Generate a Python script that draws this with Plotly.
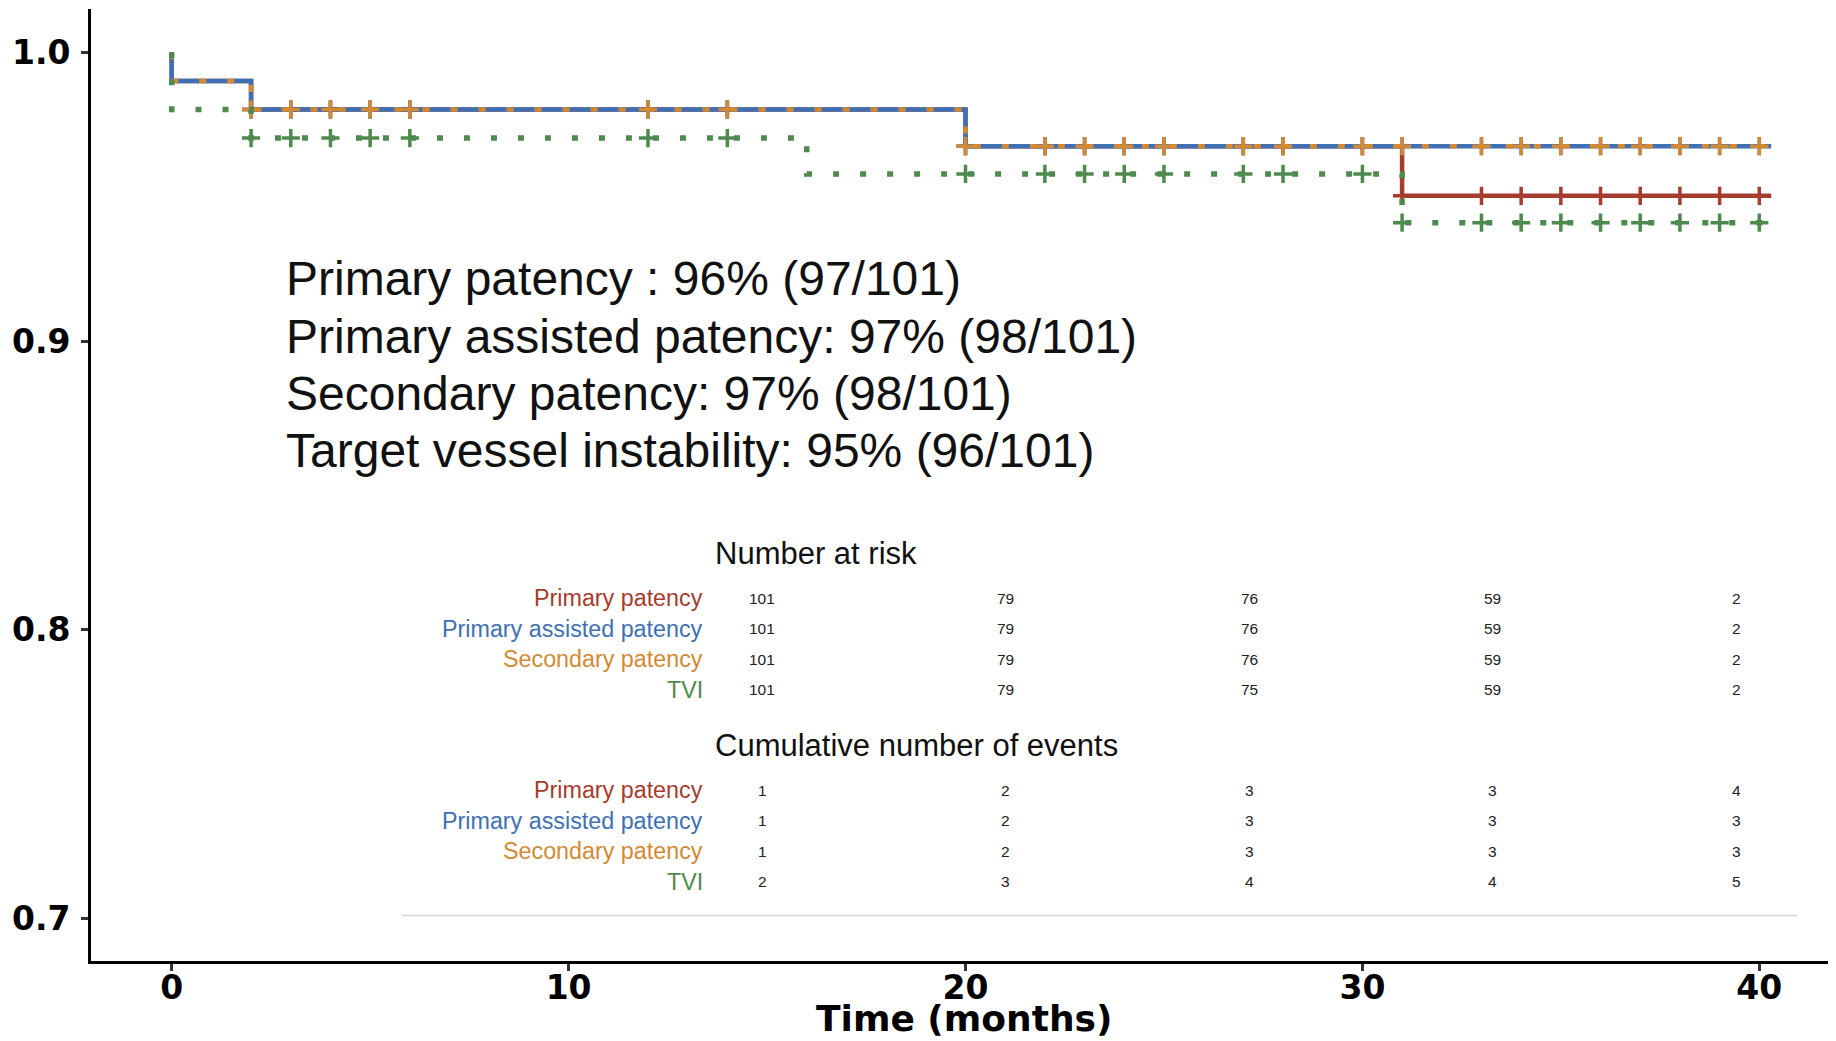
import plotly.graph_objects as go

# ---------------- data ----------------
# Kaplan-Meier step curves: event times and survival after each step
pp_times = [0, 0, 2, 20, 31, 40.3]
pp_surv = [1.0, 0.9901, 0.9802, 0.9675, 0.9503, 0.9503]

pap_times = [0, 0, 2, 20, 40.3]
pap_surv = [1.0, 0.9901, 0.9802, 0.9675, 0.9675]

sp_times = [0, 0, 2, 20, 40.3]
sp_surv = [1.0, 0.9901, 0.9802, 0.9675, 0.9675]

tvi_times = [0, 0, 2, 16, 31, 40.3]
tvi_surv = [1.0, 0.9802, 0.9703, 0.9579, 0.9410, 0.9410]

# censoring times (months)
cens_pp = [2, 3, 4, 5, 6, 12, 14, 20, 22, 23, 24, 25, 27, 28, 30, 31, 33, 34, 35, 36, 37, 38, 39, 40]
cens_pap = [2, 3, 4, 5, 6, 12, 14, 20, 22, 23, 24, 25, 27, 28, 30, 31, 33, 34, 35, 36, 37, 38, 39, 40]
cens_sp = [2, 3, 4, 5, 6, 12, 14, 20, 22, 23, 24, 25, 27, 28, 30, 31, 33, 34, 35, 36, 37, 38, 39, 40]
cens_tvi = [2, 3, 4, 5, 6, 12, 14, 20, 22, 23, 24, 25, 27, 28, 30, 31, 33, 34, 35, 36, 37, 38, 39, 40]

x_ticks = [0, 10, 20, 30, 40]
y_ticks = [0.7, 0.8, 0.9, 1.0]
y_ticklabels = ["0.7", "0.8", "0.9", "1.0"]
x_title = "Time (months)"

summary_lines = [
    "Primary patency : 96% (97/101)",
    "Primary assisted patency: 97% (98/101)",
    "Secondary patency: 97% (98/101)",
    "Target vessel instability: 95% (96/101)",
]

table_labels = ["Primary patency", "Primary assisted patency", "Secondary patency", "TVI"]
at_risk = [
    [101, 79, 76, 59, 2],
    [101, 79, 76, 59, 2],
    [101, 79, 76, 59, 2],
    [101, 79, 75, 59, 2],
]
cum_events = [
    [1, 2, 3, 3, 4],
    [1, 2, 3, 3, 3],
    [1, 2, 3, 3, 3],
    [2, 3, 4, 4, 5],
]

# ---------------- styles ----------------
RED = "#A63C2E"
BLUE = "#4070B4"
ORANGE = "#D38A33"
GREEN = "#4E8A4E"
label_colors = [RED, BLUE, ORANGE, GREEN]

OFF = 8  # page body margin
W, H = 1836 - OFF, 1041 - OFF
ML, MR, MT, MB = 91 - OFF, 0, 9 - OFF, 80
PW, PH = W - ML - MR, H - MT - MB


def px(x):  # page pixel -> paper
    return (x - OFF - ML) / PW


def py(y):
    return (H - MB - (y - OFF)) / PH


def surv_at(times, surv, t):
    val = surv[0]
    for ti, si in zip(times, surv):
        if ti <= t:
            val = si
    return val


fig = go.Figure()

curves = [
    ("Primary patency", pp_times, pp_surv, cens_pp, RED, None, 4.5),
    ("Primary assisted patency", pap_times, pap_surv, cens_pap, BLUE, None, 4.5),
    ("Secondary patency", sp_times, sp_surv, cens_sp, ORANGE, "7px,21px", 4.5),
    ("TVI", tvi_times, tvi_surv, cens_tvi, GREEN, "6px,21px", 5.5),
]

for name, t, s, c, col, dash, w in curves:
    line = dict(color=col, width=w, shape="hv")
    if dash:
        line["dash"] = dash
    fig.add_trace(go.Scatter(x=t, y=s, mode="lines", line=line, name=name,
                             hoverinfo="skip"))
    fig.add_trace(go.Scatter(
        x=c, y=[surv_at(t, s, ci) for ci in c], mode="markers",
        marker=dict(symbol="cross-thin", size=13, line=dict(color=col, width=3.5)),
        name=name + " censored", hoverinfo="skip"))

annotations = []
line_y = [278.7, 336.0, 393.4, 450.8]
for txt, yy in zip(summary_lines, line_y):
    annotations.append(dict(
        x=px(284), y=py(yy), xref="paper", yref="paper", text=txt,
        showarrow=False, xanchor="left", yanchor="middle",
        font=dict(family="Liberation Sans, Arial", size=48, color="#111111")))

col_x = [762 + i * 243.5 for i in range(5)]
TF = "Liberation Sans, Arial"


def add_table(title, title_y, rows_y, values):
    annotations.append(dict(
        x=px(713), y=py(title_y), xref="paper", yref="paper", text=title,
        showarrow=False, xanchor="left", yanchor="middle",
        font=dict(family=TF, size=31, color="#111111")))
    for lab, col, ry, vals in zip(table_labels, label_colors, rows_y, values):
        annotations.append(dict(
            x=px(705), y=py(ry), xref="paper", yref="paper", text=lab,
            showarrow=False, xanchor="right", yanchor="middle",
            font=dict(family=TF, size=23.3, color=col)))
        for cx, v in zip(col_x, vals):
            annotations.append(dict(
                x=px(cx), y=py(ry), xref="paper", yref="paper", text=str(v),
                showarrow=False, xanchor="center", yanchor="middle",
                font=dict(family=TF, size=15.5, color="#222222")))


add_table("Number at risk", 553.8, [598.3, 628.8, 659.2, 689.7], at_risk)
add_table("Cumulative number of events", 745.9, [790.4, 820.8, 851.2, 881.7], cum_events)

# x-axis title (box bottom kept inside the page)
annotations.append(dict(
    x=0.5, y=py(1040), xref="paper", yref="paper", text="<b>" + x_title + "</b>",
    showarrow=False, xanchor="center", yanchor="bottom", borderpad=0,
    font=dict(family="DejaVu Sans", size=36, color="black")))

shapes = [dict(type="line", xref="paper", yref="paper",
               x0=px(402), x1=px(1797), y0=py(915.6), y1=py(915.6),
               line=dict(color="#d4d4d4", width=1.5))]

tickfont = dict(family="DejaVu Sans", size=33, color="black", weight="bold")

fig.update_layout(
    width=W, height=H,
    margin=dict(l=ML, r=MR, t=MT, b=MB, autoexpand=False),
    paper_bgcolor="white", plot_bgcolor="white",
    showlegend=False,
    annotations=annotations,
    shapes=shapes,
    xaxis=dict(
        range=[(91 - 171.7) / 39.69, (1836 - 171.7) / 39.69],
        tickvals=x_ticks, ticktext=[str(v) for v in x_ticks],
        showline=True, linecolor="black", linewidth=3,
        ticks="outside", ticklen=7, tickwidth=2.5, tickcolor="#333333",
        ticklabelstandoff=-12,
        showgrid=False, zeroline=False,
        tickfont=tickfont,
    ),
    yaxis=dict(
        range=[0.7 - (961 - 918.7) / 2888, 1.0 + (52.3 - 9) / 2888],
        tickvals=y_ticks, ticktext=y_ticklabels,
        showline=True, linecolor="black", linewidth=3,
        ticks="outside", ticklen=7, tickwidth=2.5, tickcolor="#333333",
        ticklabelstandoff=4,
        showgrid=False, zeroline=False,
        tickfont=tickfont,
    ),
)

fig.write_html("out.html")
